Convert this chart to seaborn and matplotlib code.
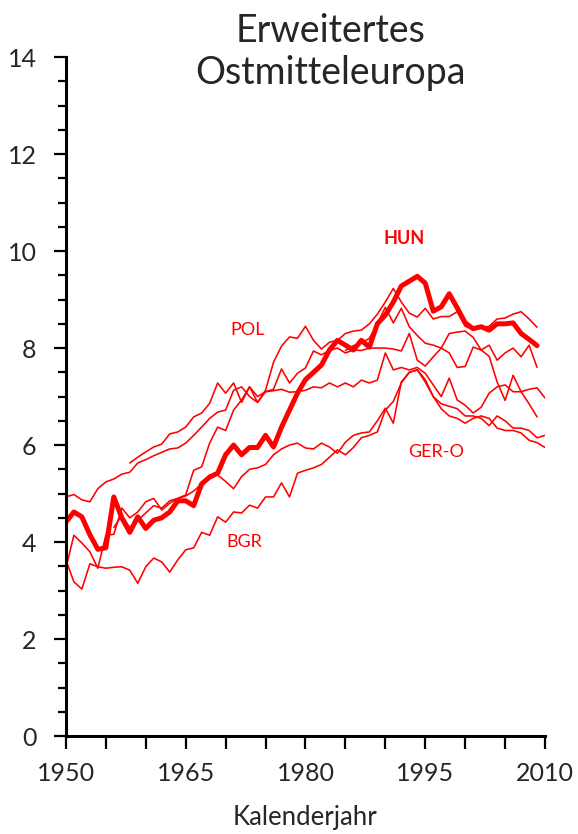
import matplotlib
matplotlib.use("Agg")
import matplotlib.pyplot as plt
import seaborn as sns
import pandas as pd

# --- Werte ---
hun_start = 1950
hun = [4.41, 4.62, 4.52, 4.15, 3.85, 3.88, 4.93, 4.50, 4.20, 4.52,
       4.28, 4.45, 4.50, 4.62, 4.85, 4.85, 4.75, 5.20, 5.34, 5.42,
       5.80, 6.00, 5.80, 5.95, 5.95, 6.20, 5.96, 6.37, 6.72, 7.07,
       7.35, 7.50, 7.65, 7.96, 8.16, 8.06, 7.96, 8.16, 8.02, 8.50,
       8.68, 8.95, 9.28, 9.38, 9.48, 9.34, 8.76, 8.85, 9.12, 8.83,
       8.52, 8.40, 8.44, 8.37, 8.50, 8.50, 8.52, 8.30, 8.18, 8.05]

pol_start = 1958
pol = [5.63, 5.75, 5.86, 5.96, 6.02, 6.23, 6.27, 6.37, 6.58, 6.66,
       6.86, 7.28, 7.07, 7.28, 6.88, 7.20, 6.88, 7.13, 7.71, 8.04,
       8.23, 8.20, 8.45, 8.16, 7.98, 8.12, 8.16, 8.30, 8.35, 8.37,
       8.50, 8.70, 8.95, 9.23, 8.95, 8.72, 8.64, 8.82, 8.60, 8.65,
       8.65, 8.75, 8.45, 8.38, 8.42, 8.45, 8.60, 8.62, 8.70, 8.75,
       8.60, 8.43]

cze_start = 1950
cze = [4.93, 4.98, 4.87, 4.83, 5.10, 5.24, 5.30, 5.40, 5.44, 5.63,
       5.70, 5.78, 5.85, 5.92, 5.94, 6.04, 6.20, 6.37, 6.55, 6.68,
       6.72, 7.13, 7.20, 7.00, 6.88, 7.10, 7.15, 7.57, 7.28, 7.48,
       7.59, 7.94, 7.86, 7.95, 8.00, 7.90, 7.96, 7.95, 8.00, 8.00,
       8.00, 7.98, 7.94, 8.30, 7.75, 7.63, 7.82, 8.00, 8.30, 8.33,
       8.35, 8.22, 7.96, 7.83, 7.30, 6.92, 7.44, 7.10, 6.85, 6.58]

svk_start = 1950
svk = [3.46, 4.14, 3.98, 3.80, 3.46, 4.14, 4.16, 4.70, 4.50, 4.62,
       4.83, 4.90, 4.66, 4.80, 4.90, 4.97, 5.48, 5.55, 6.04, 6.37,
       6.30, 6.72, 6.93, 7.20, 7.00, 7.10, 7.12, 7.15, 7.09, 7.10,
       7.13, 7.20, 7.18, 7.28, 7.20, 7.28, 7.20, 7.34, 7.28, 7.34,
       7.90, 7.55, 7.60, 7.55, 7.60, 7.48, 7.24, 7.00, 7.38, 6.93,
       6.82, 6.66, 6.78, 7.07, 7.20, 7.24, 7.10, 7.10, 7.15, 7.18,
       6.97]

svn_start = 1985
svn = [7.95, 8.05, 8.10, 8.20, 8.50, 8.84, 8.52, 8.82, 8.44, 8.26,
       8.10, 8.06, 8.00, 7.90, 7.60, 7.62, 8.02, 7.96, 8.06, 7.75,
       7.90, 8.00, 7.82, 8.06, 7.60]

gero_start = 1956
gero = [4.30, 4.55, 4.30, 4.45, 4.60, 4.75, 4.70, 4.85, 4.90, 4.95,
        5.05, 5.20, 5.38, 5.38, 5.25, 5.10, 5.35, 5.50, 5.53, 5.60,
        5.80, 5.92, 6.00, 6.04, 5.94, 5.92, 6.04, 5.96, 5.83, 6.06,
        6.20, 6.25, 6.27, 6.50, 6.76, 6.45, 7.30, 7.50, 7.55, 7.35,
        7.00, 6.85, 6.80, 6.75, 6.60, 6.60, 6.55, 6.40, 6.60, 6.50,
        6.35, 6.35, 6.30, 6.15, 6.20]

bgr_start = 1950
bgr = [3.63, 3.18, 3.03, 3.55, 3.49, 3.46, 3.48, 3.49, 3.42, 3.15,
       3.49, 3.67, 3.59, 3.38, 3.63, 3.84, 3.88, 4.20, 4.14, 4.52,
       4.41, 4.62, 4.60, 4.76, 4.70, 4.93, 4.93, 5.22, 4.93, 5.42,
       5.48, 5.53, 5.60, 5.75, 5.90, 5.80, 5.95, 6.15, 6.20, 6.27,
       6.72, 6.90, 7.28, 7.50, 7.55, 7.30, 7.00, 6.75, 6.60, 6.55,
       6.45, 6.55, 6.60, 6.55, 6.35, 6.30, 6.30, 6.25, 6.10, 6.05,
       5.95]

thin_series = {
    "POL": (pol_start, pol),
    "CZE": (cze_start, cze),
    "SVK": (svk_start, svk),
    "SVN": (svn_start, svn),
    "GER-O": (gero_start, gero),
    "BGR": (bgr_start, bgr),
}

x_ticks = [1950, 1965, 1980, 1995, 2010]
y_ticks = [0, 2, 4, 6, 8, 10, 12, 14]


def to_frame(start, values):
    return pd.DataFrame({"Jahr": range(start, start + len(values)), "Wert": values})


# --- Abbildung ---
sns.set_theme(style="ticks")
plt.rcParams["font.family"] = ["Lato", "DejaVu Sans"]

fig = plt.figure(figsize=(5.78, 8.34), dpi=100)
ax = fig.add_axes([0.114, 0.1175, 0.829, 0.814])

for name, (start, values) in thin_series.items():
    sns.lineplot(data=to_frame(start, values), x="Jahr", y="Wert", ax=ax,
                 color="#ff0000", linewidth=1.15)

sns.lineplot(data=to_frame(hun_start, hun), x="Jahr", y="Wert", ax=ax,
             color="#ff0000", linewidth=3.6)

# Beschriftungen der Linien
ax.text(1992.4, 10.27, "HUN", color="#ff0000", fontsize=13, fontweight="bold",
        ha="center", va="center")
ax.text(1972.8, 8.37, "POL", color="#ff0000", fontsize=13, ha="center", va="center")
ax.text(1996.4, 5.86, "GER-O", color="#ff0000", fontsize=13, ha="center", va="center")
ax.text(1972.4, 4.0, "BGR", color="#ff0000", fontsize=13, ha="center", va="center")

ax.set_xlim(1950, 2010)
ax.set_ylim(0, 14)
ax.set_xticks(x_ticks)
ax.set_xticks(range(1950, 2011, 5), minor=True)
ax.set_yticks(y_ticks)
ax.set_yticks([v / 2 for v in range(0, 29)], minor=True)

ax.tick_params(axis="both", which="major", labelsize=18, color="black",
               width=1.6, length=9, direction="out")
ax.tick_params(axis="x", which="major", pad=10)
ax.tick_params(axis="y", which="major", pad=12)
ax.tick_params(axis="x", which="minor", width=1.6, length=9, color="black")
ax.tick_params(axis="y", which="minor", width=1.6, length=6, color="black")

ax.set_xlabel("Kalenderjahr", fontsize=18.5, labelpad=14)
ax.set_ylabel("")

for side in ["top", "right"]:
    ax.spines[side].set_visible(False)
for side in ["left", "bottom"]:
    ax.spines[side].set_color("black")
    ax.spines[side].set_linewidth(2.2)

fig.text(0.572, 0.938, "Erweitertes\nOstmitteleuropa", fontsize=27,
         ha="center", va="center", linespacing=1.2)

fig.savefig("out.png", dpi=100)
